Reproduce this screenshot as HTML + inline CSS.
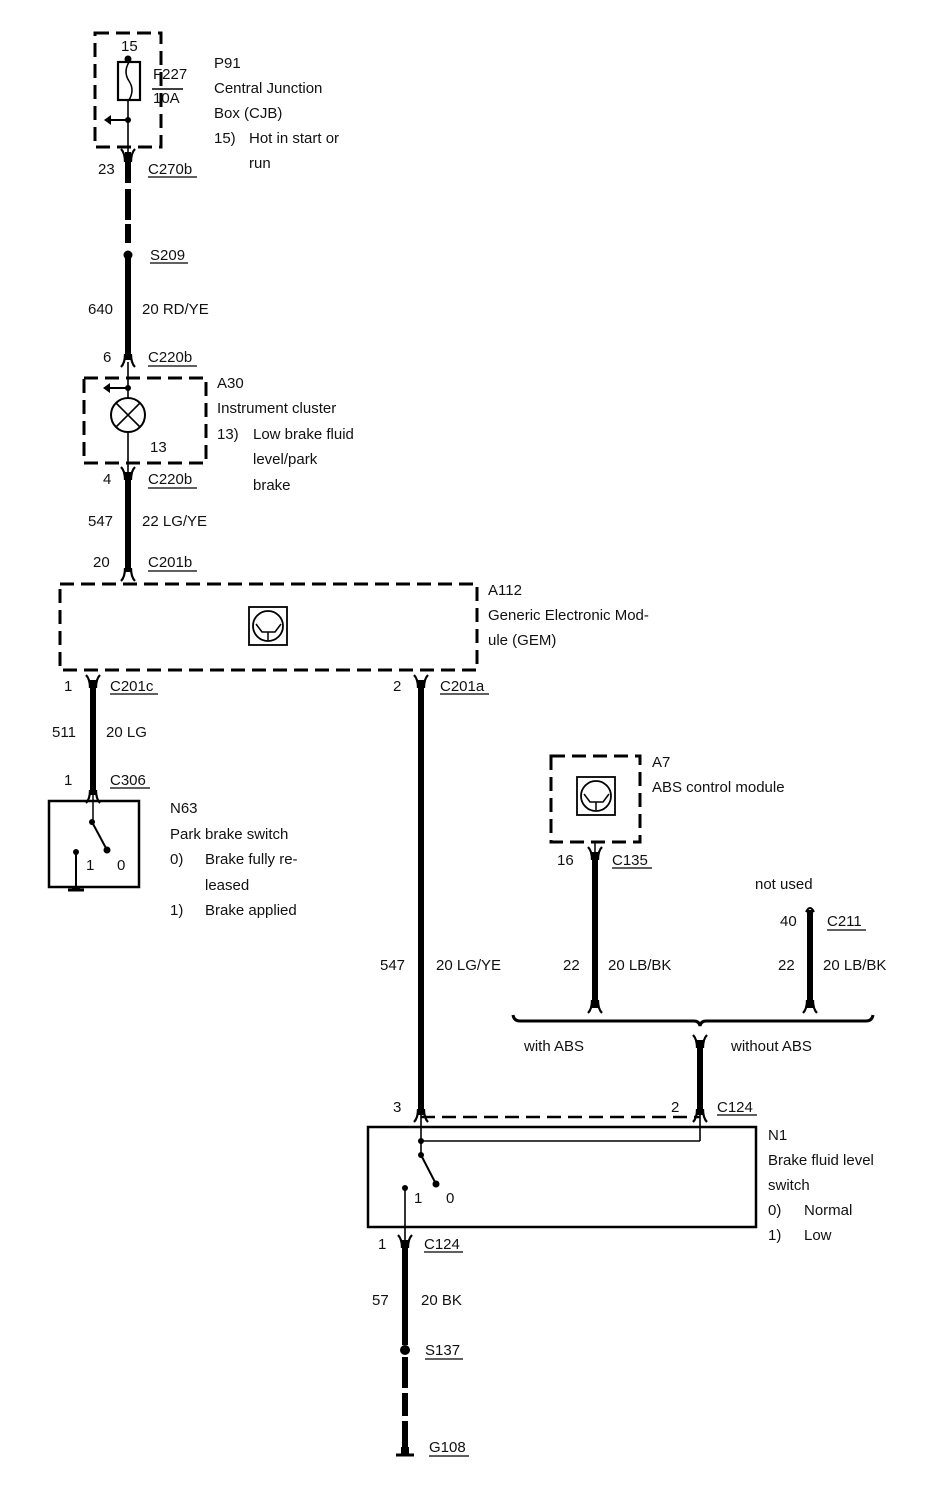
<!DOCTYPE html>
<html><head><meta charset="utf-8"><style>
html,body{margin:0;padding:0;background:#fff}
svg{display:block}
text{font-family:"Liberation Sans",Arial,sans-serif;font-size:15px;fill:#111}
</style></head><body>
<svg width="944" height="1498" viewBox="0 0 944 1498" xmlns="http://www.w3.org/2000/svg">
<defs>
<g id="fd"><path d="M-7,-5 Q-3,-1 -3,8 M7,-5 Q3,-1 3,8" stroke="#000" stroke-width="2.2" fill="none"/></g>
<g id="fu"><path d="M-7,5 Q-3,1 -3,-8 M7,5 Q3,1 3,-8" stroke="#000" stroke-width="2.2" fill="none"/></g>
</defs>
<g stroke="#000" fill="none">
<rect x="95" y="33" width="66" height="114" stroke-width="3" stroke-dasharray="14,7"/>
<line x1="128" y1="58" x2="128" y2="152" stroke-width="1.6"/>
<rect x="118" y="62" width="22" height="38" stroke-width="2.2" fill="#fff"/>
<path d="M129,62 Q123,72 129,81 Q135,90 129,100" stroke-width="1.5"/>
<line x1="152" y1="89" x2="183" y2="89" stroke-width="1.5"/>
<line x1="128" y1="120" x2="108" y2="120" stroke-width="2"/>
<line x1="128" y1="152" x2="128" y2="183" stroke-width="6"/>
<line x1="128" y1="189" x2="128" y2="220" stroke-width="6"/>
<line x1="128" y1="224" x2="128" y2="243" stroke-width="6"/>
<line x1="128" y1="255" x2="128" y2="360" stroke-width="6"/>
<rect x="84" y="378" width="122" height="85" stroke-width="3" stroke-dasharray="14,7"/>
<line x1="128" y1="362" x2="128" y2="472" stroke-width="1.6"/>
<line x1="128" y1="388" x2="108" y2="388" stroke-width="2"/>
<circle cx="128" cy="415" r="17" stroke-width="2" fill="#fff"/>
<path d="M116,403 L140,427 M140,403 L116,427" stroke-width="1.6"/>
<line x1="128" y1="472" x2="128" y2="572" stroke-width="6"/>
<rect x="60" y="584" width="417" height="86" stroke-width="3" stroke-dasharray="14,7"/>
<rect x="249" y="607" width="38" height="38" stroke-width="1.8"/>
<circle cx="268" cy="626" r="15" stroke-width="1.8"/>
<path d="M256,624 L262,632 L275,632 L281,624 M268,632 L268,640" stroke-width="1.5"/>
<line x1="93" y1="680" x2="93" y2="795" stroke-width="6"/>
<line x1="93" y1="795" x2="93" y2="822" stroke-width="1.5"/>
<rect x="49" y="801" width="90" height="86" stroke-width="2.5"/>
<line x1="92" y1="822" x2="107" y2="850" stroke-width="2"/>
<line x1="76" y1="852" x2="76" y2="887" stroke-width="2"/>
<line x1="68" y1="890" x2="84" y2="890" stroke-width="3"/>
<line x1="421" y1="680" x2="421" y2="1115" stroke-width="6"/>
<rect x="551" y="756" width="89" height="86" stroke-width="3" stroke-dasharray="14,7"/>
<rect x="577" y="777" width="38" height="38" stroke-width="1.8"/>
<circle cx="596" cy="796" r="15" stroke-width="1.8"/>
<path d="M584,794 L590,802 L603,802 L609,794 M596,802 L596,810" stroke-width="1.5"/>
<line x1="595" y1="842" x2="595" y2="852" stroke-width="1.5"/>
<line x1="595" y1="852" x2="595" y2="1008" stroke-width="6"/>
<line x1="810" y1="910" x2="810" y2="1008" stroke-width="6"/>
<path d="M513,1015 Q514,1021 520,1021 L694,1021 Q699,1021 700,1026 Q701,1021 706,1021 L866,1021 Q872,1021 873,1015" stroke-width="3"/>
<line x1="700" y1="1040" x2="700" y2="1115" stroke-width="6"/>
<line x1="421" y1="1117" x2="700" y2="1117" stroke-width="2.5" stroke-dasharray="14,7"/>
<rect x="368" y="1127" width="388" height="100" stroke-width="2.5"/>
<line x1="421" y1="1115" x2="421" y2="1155" stroke-width="1.6"/>
<line x1="700" y1="1115" x2="700" y2="1141" stroke-width="1.6"/>
<line x1="421" y1="1141" x2="700" y2="1141" stroke-width="1.6"/>
<line x1="421" y1="1155" x2="436" y2="1184" stroke-width="2"/>
<line x1="405" y1="1188" x2="405" y2="1240" stroke-width="1.6"/>
<line x1="405" y1="1240" x2="405" y2="1345" stroke-width="6"/>
<line x1="405" y1="1357" x2="405" y2="1388" stroke-width="6"/>
<line x1="405" y1="1393" x2="405" y2="1416" stroke-width="6"/>
<line x1="405" y1="1421" x2="405" y2="1448" stroke-width="6"/>
<line x1="396" y1="1455" x2="414" y2="1455" stroke-width="3"/>
<g stroke-width="1.2">
<line x1="148" y1="177" x2="197" y2="177"/>
<line x1="150" y1="263" x2="188" y2="263"/>
<line x1="148" y1="366" x2="197" y2="366"/>
<line x1="148" y1="488" x2="197" y2="488"/>
<line x1="148" y1="571" x2="197" y2="571"/>
<line x1="110" y1="694" x2="158" y2="694"/>
<line x1="440" y1="694" x2="489" y2="694"/>
<line x1="110" y1="788" x2="150" y2="788"/>
<line x1="612" y1="868" x2="652" y2="868"/>
<line x1="827" y1="930" x2="866" y2="930"/>
<line x1="717" y1="1115" x2="757" y2="1115"/>
<line x1="424" y1="1252" x2="463" y2="1252"/>
<line x1="425" y1="1359" x2="463" y2="1359"/>
<line x1="429" y1="1456" x2="469" y2="1456"/>
</g>
</g>
<g fill="#000">
<circle cx="128" cy="59" r="3.5"/><circle cx="128" cy="120" r="3"/>
<path d="M104,120 L111,115 L111,125 Z"/>
<circle cx="128" cy="255" r="4.5"/>
<circle cx="128" cy="388" r="3"/>
<path d="M103,388 L110,383 L110,393 Z"/>
<circle cx="92" cy="822" r="3"/><circle cx="107" cy="850" r="3.5"/><circle cx="76" cy="852" r="3"/>
<circle cx="421" cy="1141" r="3"/><circle cx="421" cy="1155" r="3"/><circle cx="436" cy="1184" r="3.5"/><circle cx="405" cy="1188" r="3"/>
<circle cx="405" cy="1350" r="5"/>
<rect x="401" y="1447" width="8" height="8"/>
<rect x="72" y="886" width="8" height="4"/>
</g>
<use href="#fd" x="128" y="154"/>
<use href="#fu" x="128" y="362"/>
<use href="#fd" x="128" y="472"/>
<use href="#fu" x="128" y="576"/>
<use href="#fd" x="93" y="680"/>
<use href="#fu" x="93" y="798"/>
<use href="#fd" x="421" y="680"/>
<use href="#fu" x="421" y="1117"/>
<use href="#fd" x="595" y="852"/>
<use href="#fu" x="595" y="1008"/>
<use href="#fu" x="810" y="1008"/>
<use href="#fd" x="700" y="1040"/>
<use href="#fu" x="700" y="1117"/>
<use href="#fd" x="405" y="1240"/>
<path d="M806,912 Q810,904 814,912" stroke="#000" stroke-width="2" fill="none"/>
<text x="121" y="51">15</text>
<text x="153" y="79">F227</text>
<text x="153" y="103">10A</text>
<text x="214" y="68">P91</text>
<text x="214" y="93">Central Junction</text>
<text x="214" y="118">Box (CJB)</text>
<text x="214" y="143">15)</text>
<text x="249" y="143">Hot in start or</text>
<text x="249" y="168">run</text>
<text x="98" y="174">23</text><text x="148" y="174">C270b</text>
<text x="150" y="260">S209</text>
<text x="88" y="314">640</text><text x="142" y="314">20 RD/YE</text>
<text x="103" y="362">6</text><text x="148" y="362">C220b</text>
<text x="217" y="388">A30</text>
<text x="217" y="413">Instrument cluster</text>
<text x="217" y="439">13)</text><text x="253" y="439">Low brake fluid</text>
<text x="253" y="464">level/park</text>
<text x="253" y="490">brake</text>
<text x="150" y="452">13</text>
<text x="103" y="484">4</text><text x="148" y="484">C220b</text>
<text x="88" y="526">547</text><text x="142" y="526">22 LG/YE</text>
<text x="93" y="567">20</text><text x="148" y="567">C201b</text>
<text x="488" y="595">A112</text>
<text x="488" y="620">Generic Electronic Mod-</text>
<text x="488" y="645">ule (GEM)</text>
<text x="64" y="691">1</text><text x="110" y="691">C201c</text>
<text x="393" y="691">2</text><text x="440" y="691">C201a</text>
<text x="52" y="737">511</text><text x="106" y="737">20 LG</text>
<text x="64" y="785">1</text><text x="110" y="785">C306</text>
<text x="86" y="870">1</text><text x="117" y="870">0</text>
<text x="170" y="813">N63</text>
<text x="170" y="839">Park brake switch</text>
<text x="170" y="864">0)</text><text x="205" y="864">Brake fully re-</text>
<text x="205" y="890">leased</text>
<text x="170" y="915">1)</text><text x="205" y="915">Brake applied</text>
<text x="652" y="767">A7</text>
<text x="652" y="792">ABS control module</text>
<text x="557" y="865">16</text><text x="612" y="865">C135</text>
<text x="755" y="889">not used</text>
<text x="780" y="926">40</text><text x="827" y="926">C211</text>
<text x="380" y="970">547</text><text x="436" y="970">20 LG/YE</text>
<text x="563" y="970">22</text><text x="608" y="970">20 LB/BK</text>
<text x="778" y="970">22</text><text x="823" y="970">20 LB/BK</text>
<text x="524" y="1051">with ABS</text>
<text x="731" y="1051">without ABS</text>
<text x="393" y="1112">3</text><text x="671" y="1112">2</text><text x="717" y="1112">C124</text>
<text x="768" y="1140">N1</text>
<text x="768" y="1165">Brake fluid level</text>
<text x="768" y="1190">switch</text>
<text x="768" y="1215">0)</text><text x="804" y="1215">Normal</text>
<text x="768" y="1240">1)</text><text x="804" y="1240">Low</text>
<text x="414" y="1203">1</text><text x="446" y="1203">0</text>
<text x="378" y="1249">1</text><text x="424" y="1249">C124</text>
<text x="372" y="1305">57</text><text x="421" y="1305">20 BK</text>
<text x="425" y="1355">S137</text>
<text x="429" y="1452">G108</text>
</svg>
</body></html>
